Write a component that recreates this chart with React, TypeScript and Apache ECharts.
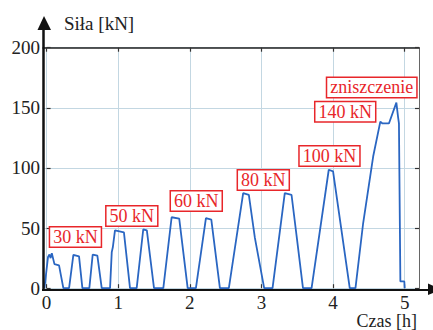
import React, { useEffect, useRef } from "react";
import * as echarts from "echarts";

// Force (kN) against time (h)
const timeH: number[] = [
  -0.03, 0.02, 0.04, 0.056, 0.073, 0.11, 0.174, 0.234,
  0.314, 0.374, 0.453, 0.5,
  0.597, 0.644, 0.709, 0.77,
  0.886, 0.91, 0.925, 0.955, 1.08, 1.165,
  1.258, 1.35, 1.4, 1.5,
  1.63, 1.746, 1.852, 1.97,
  2.085, 2.225, 2.3, 2.42,
  2.545, 2.745, 2.824, 2.908, 3.038,
  3.155, 3.326, 3.42, 3.49, 3.58,
  3.7, 3.94, 4.0, 4.233,
  4.313, 4.42, 4.56, 4.66, 4.69, 4.78, 4.884, 4.907, 4.92, 4.94, 4.995, 5.0,
];
const forceKN: number[] = [
  0, 26, 28, 25, 29, 20, 19, 0,
  0, 27.8, 26.4, 0,
  0, 28, 27, 0,
  0, 30, 34, 48, 46.4, 0,
  0, 49, 48, 0,
  0, 59, 57.8, 0,
  0, 58.3, 57, 0,
  0, 79, 77.7, 42, 0,
  0, 79, 77.7, 44, 0,
  0, 98.5, 97.2, 0,
  0, 54, 109.5, 138.5, 137, 137, 154.3, 142.7, 137, 5.6, 5.6, 0,
];

// Annotation boxes
const noteTexts: string[] = ["30 kN", "50 kN", "60 kN", "80 kN", "100 kN", "140 kN", "zniszczenie"];
const noteT: number[] = [0.403, 1.19, 2.09, 3.026, 3.95, 4.17, 4.54];
const noteF: number[] = [42.6, 60, 72.5, 90, 110, 146.8, 167];

// Axis ticks
const xTicks: number[] = [0, 1, 2, 3, 4, 5];
const yTicks: number[] = [0, 50, 100, 150, 200];

const yAxisName = "Siła [kN]";
const xAxisName = "Czas [h]";

const SERIF = "Liberation Serif";
const RED = "#e8262a";
const BLUE = "#2a66c2";
const GRIDC = "#c3d7e2";

export default function App() {
  const ref = useRef<HTMLDivElement>(null);

  useEffect(() => {
    if (!ref.current) return;
    const chart = echarts.init(ref.current, undefined, { renderer: "svg" });
    const lineData = timeH.map((t, i) => [t, forceKN[i]]);
    const notes = noteTexts.map((txt, i) => ({
      value: [noteT[i], noteF[i]],
      label: { formatter: txt },
    }));

    const xMin = -0.05, xMax = 5.2, yMin = -1.5, yMax = 200;

    chart.setOption({
      animation: false,
      backgroundColor: "#ffffff",
      textStyle: { fontFamily: SERIF },
      grid: { left: 43, right: 14, top: 47.7, bottom: 40, containLabel: false },
      xAxis: [
        {
          type: "value",
          min: xMin,
          max: xMax,
          position: "bottom",
          axisLine: { show: false },
          axisTick: {
            show: true,
            inside: true,
            length: 4,
            customValues: xTicks,
            lineStyle: { color: "#333", width: 1.2 },
          },
          axisLabel: {
            customValues: xTicks,
            fontFamily: SERIF,
            fontSize: 19,
            lineHeight: 18,
            color: "#222",
            margin: 3,
          },
          splitLine: { show: true, lineStyle: { color: GRIDC, width: 1 } },
        },
        {
          type: "value",
          min: xMin,
          max: xMax,
          position: "top",
          axisLine: { show: true, onZero: false, lineStyle: { color: "#222", width: 1.5 } },
          axisTick: {
            show: true,
            inside: true,
            length: 4,
            customValues: xTicks,
            lineStyle: { color: "#333", width: 1.2 },
          },
          axisLabel: { show: false },
          splitLine: { show: false },
        },
      ],
      yAxis: [
        {
          type: "value",
          min: yMin,
          max: yMax,
          position: "left",
          axisLine: { show: false },
          axisTick: {
            show: true,
            inside: true,
            length: 4,
            customValues: yTicks,
            lineStyle: { color: "#333", width: 1.2 },
          },
          axisLabel: {
            customValues: yTicks,
            fontFamily: SERIF,
            fontSize: 19,
            color: "#222",
            margin: 3,
          },
          splitLine: { show: true, lineStyle: { color: GRIDC, width: 1 } },
        },
        {
          type: "value",
          min: yMin,
          max: yMax,
          position: "right",
          axisLine: { show: true, onZero: false, lineStyle: { color: "#666", width: 1 } },
          axisTick: {
            show: true,
            inside: true,
            length: 4,
            customValues: yTicks,
            lineStyle: { color: "#333", width: 1.2 },
          },
          axisLabel: { show: false },
          splitLine: { show: false },
        },
      ],
      series: [
        {
          type: "line",
          data: lineData,
          xAxisIndex: 0,
          yAxisIndex: 0,
          showSymbol: false,
          symbol: "none",
          lineStyle: { color: BLUE, width: 1.8 },
          z: 3,
        },
        {
          type: "scatter",
          data: notes,
          xAxisIndex: 0,
          yAxisIndex: 0,
          symbol: "circle",
          symbolSize: 1,
          itemStyle: { color: "transparent", opacity: 1 },
          z: 6,
          label: {
            show: true,
            position: "inside",
            fontFamily: SERIF,
            fontSize: 18,
            lineHeight: 18,
            color: RED,
            opacity: 1,
            backgroundColor: "#ffffff",
            borderColor: RED,
            borderWidth: 1.5,
            padding: [1, 3, 0, 3],
          },
        },
      ],
      graphic: [
        // y axis with arrow
        {
          type: "line",
          shape: { x1: 43.5, y1: 291, x2: 43.5, y2: 28 },
          style: { stroke: "#111", lineWidth: 2.5 },
          z: 10,
        },
        {
          type: "polygon",
          shape: { points: [[44, 16], [37.5, 30], [51, 30]] },
          style: { fill: "#111" },
          z: 10,
        },
        // x axis with arrow
        {
          type: "line",
          shape: { x1: 42, x2: 430, y1: 290, y2: 290 },
          style: { stroke: "#111", lineWidth: 2 },
          z: 10,
        },
        {
          type: "polygon",
          shape: { points: [[428, 283.5], [442, 289.5], [428, 295]] },
          style: { fill: "#111" },
          z: 10,
        },
        {
          type: "text",
          left: 64,
          top: 14,
          style: { text: yAxisName, fontFamily: SERIF, fontSize: 19, fill: "#222" },
          z: 10,
        },
        {
          type: "text",
          right: 16,
          top: 312,
          style: { text: xAxisName, fontFamily: SERIF, fontSize: 18, lineHeight: 18, fill: "#222" },
          z: 10,
        },
      ],
    });
    return () => chart.dispose();
  }, []);

  return (
    <div
      style={{ position: "fixed", left: 0, top: 0, width: 433, height: 330, background: "#fff" }}
    >
      <div ref={ref} style={{ width: 433, height: 330 }} />
    </div>
  );
}
